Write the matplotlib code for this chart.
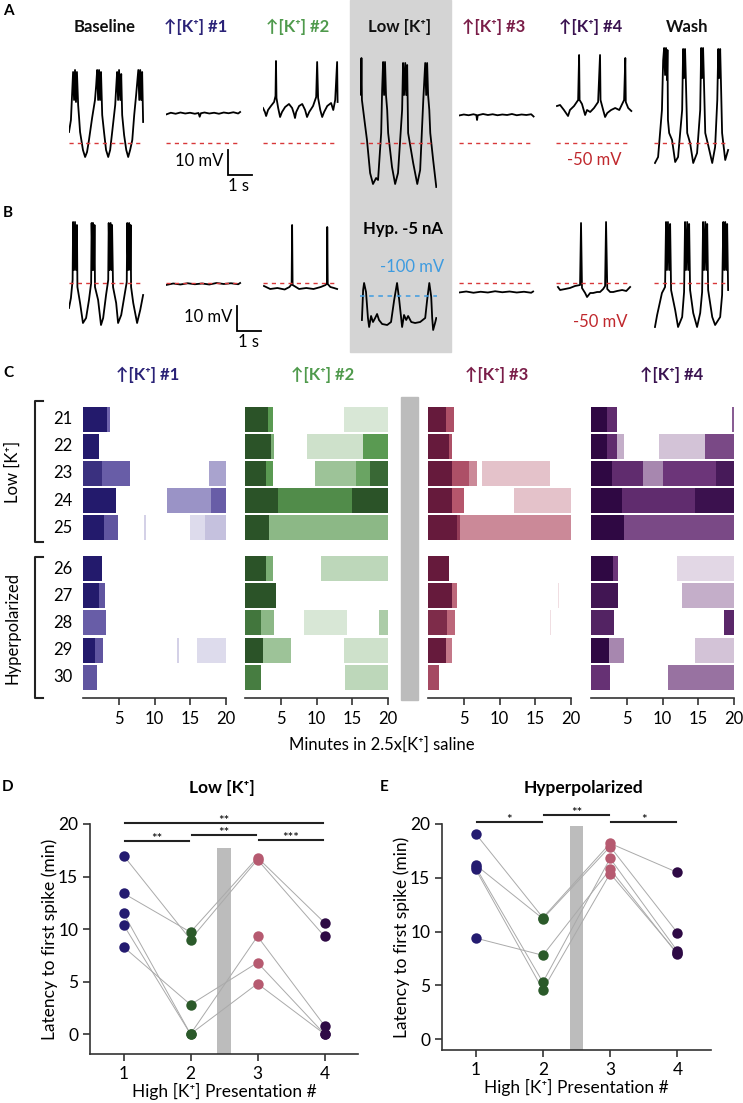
import numpy as np
import matplotlib.pyplot as plt
from matplotlib.colors import LinearSegmentedColormap
from matplotlib.patches import Rectangle
from matplotlib.lines import Line2D
import matplotlib.transforms as mtrans

plt.rcParams['font.family'] = ['Lato', 'DejaVu Sans']

# ---------------- data ----------------
# panel A / B traces: (time s, membrane potential mV)
a_baseline = [(0.00, -45.6), (0.08, -40.8), (0.17, -21.6), (0.21, -32.8), (0.25, -20.8), (0.29, -33.6),
              (0.33, -21.6), (0.38, -34.8), (0.42, -40.0), (0.46, -45.6), (0.58, -52.8), (0.67, -55.6),
              (0.75, -53.6), (0.83, -48.8), (0.96, -40.0), (1.08, -32.8), (1.13, -26.8), (1.17, -20.8),
              (1.21, -32.8), (1.25, -20.8), (1.29, -32.8), (1.33, -21.6), (1.38, -38.8), (1.46, -46.0),
              (1.54, -52.8), (1.63, -55.6), (1.71, -52.8), (1.79, -46.0), (1.92, -34.8), (1.96, -28.0),
              (2.00, -21.6), (2.04, -32.8), (2.08, -20.8), (2.13, -32.8), (2.17, -22.4), (2.21, -38.8),
              (2.29, -46.8), (2.38, -52.8), (2.46, -55.6), (2.54, -52.8), (2.63, -48.8), (2.71, -38.8),
              (2.79, -30.8), (2.88, -20.8), (2.92, -32.8), (2.96, -20.8), (3.00, -32.8), (3.04, -21.6),
              (3.08, -41.6)]
a_k1 = [(0.0, -38.6), (0.2, -37.9), (0.4, -38.3), (0.6, -37.8), (0.8, -38.2), (1.0, -37.9), (1.2, -38.3),
        (1.35, -38.0), (1.4, -39.5), (1.45, -38.1), (1.6, -37.8), (1.8, -38.2), (2.0, -37.9), (2.2, -38.3),
        (2.4, -37.8), (2.6, -38.1), (2.8, -37.7), (3.0, -38.2), (3.08, -37.6)]
a_k2 = [(0.00, -36.0), (0.08, -37.6), (0.13, -39.2), (0.21, -36.8), (0.33, -35.2), (0.46, -33.6),
        (0.52, -31.2), (0.54, -17.2), (0.56, -32.0), (0.63, -36.0), (0.71, -39.6), (0.79, -37.6),
        (0.92, -35.6), (1.08, -34.4), (1.21, -36.0), (1.29, -38.4), (1.33, -40.0), (1.38, -37.6),
        (1.50, -35.2), (1.63, -34.4), (1.75, -36.8), (1.83, -39.6), (1.92, -37.6), (2.08, -35.2),
        (2.21, -31.6), (2.25, -17.6), (2.29, -32.0), (2.38, -36.8), (2.46, -39.6), (2.54, -37.6),
        (2.67, -35.2), (2.83, -34.0), (2.92, -36.8), (3.00, -32.8), (3.08, -17.6), (3.10, -33.6)]
a_low = [(0.00, -16.8), (0.04, -30.8), (0.06, -16.0), (0.08, -32.8), (0.21, -42.8), (0.29, -48.8),
         (0.42, -62.0), (0.54, -66.4), (0.67, -64.0), (0.75, -64.8), (0.88, -46.0), (0.92, -28.8),
         (0.96, -17.6), (1.00, -30.8), (1.04, -17.6), (1.08, -30.8), (1.13, -36.8), (1.17, -46.0),
         (1.33, -59.6), (1.46, -66.4), (1.58, -62.0), (1.75, -36.8), (1.79, -18.0), (1.83, -30.8),
         (1.88, -18.0), (1.92, -30.8), (1.96, -18.8), (2.00, -46.0), (2.21, -58.0), (2.38, -66.4),
         (2.50, -60.8), (2.63, -32.8), (2.71, -18.0), (2.75, -30.8), (2.79, -18.0), (2.83, -30.8),
         (2.88, -36.8), (2.92, -46.0), (3.04, -56.8), (3.17, -67.6)]
a_k3 = [(0.0, -39.0), (0.2, -38.6), (0.4, -38.9), (0.6, -38.5), (0.72, -38.8), (0.75, -40.8), (0.78, -38.9),
        (1.0, -38.4), (1.2, -38.8), (1.4, -38.5), (1.6, -38.9), (1.8, -38.6), (2.0, -38.8), (2.2, -38.4),
        (2.4, -38.9), (2.6, -38.6), (2.8, -38.8), (3.0, -38.5), (3.1, -39.4)]
a_k4 = [(0.04, -35.2), (0.17, -34.8), (0.33, -36.8), (0.50, -39.2), (0.58, -36.8), (0.75, -35.2),
        (0.92, -32.8), (0.96, -14.8), (0.98, -32.8), (1.08, -34.4), (1.21, -38.8), (1.29, -36.8),
        (1.42, -37.6), (1.58, -36.0), (1.75, -33.6), (1.83, -14.8), (1.85, -32.8), (1.96, -36.8),
        (2.04, -39.6), (2.13, -38.0), (2.29, -36.8), (2.46, -36.0), (2.63, -36.8), (2.75, -34.4),
        (2.83, -32.8), (2.88, -16.0), (2.90, -33.6), (3.00, -36.0), (3.13, -37.2)]
a_wash = [(0.04, -58.0), (0.17, -55.6), (0.33, -36.8), (0.38, -17.0), (0.42, -12.0), (0.46, -22.8),
          (0.50, -12.0), (0.54, -24.8), (0.56, -12.8), (0.58, -40.8), (0.63, -46.0), (0.75, -48.8),
          (0.88, -57.6), (1.00, -55.6), (1.17, -36.8), (1.21, -12.4), (1.25, -24.0), (1.29, -12.4),
          (1.33, -26.8), (1.38, -46.0), (1.50, -50.0), (1.63, -58.0), (1.79, -54.0), (1.92, -36.8),
          (1.96, -12.0), (2.00, -24.0), (2.04, -12.0), (2.08, -26.8), (2.13, -46.0), (2.25, -50.8),
          (2.42, -58.0), (2.54, -51.6), (2.63, -32.8), (2.67, -12.4), (2.71, -24.0), (2.75, -12.4),
          (2.79, -28.8), (2.83, -46.0), (2.96, -56.8), (3.08, -52.8)]

b_baseline = [(0.00, -60.0), (0.08, -56.0), (0.15, -48.8), (0.17, -25.6), (0.21, -44.8), (0.25, -25.6),
              (0.29, -44.8), (0.33, -26.8), (0.35, -51.6), (0.46, -58.0), (0.58, -66.0), (0.71, -64.0),
              (0.83, -56.8), (0.92, -50.0), (0.94, -26.0), (0.98, -44.8), (1.00, -26.0), (1.04, -44.8),
              (1.06, -26.8), (1.08, -51.6), (1.21, -56.8), (1.33, -66.8), (1.42, -64.0), (1.54, -54.8),
              (1.63, -48.8), (1.65, -26.0), (1.69, -44.8), (1.73, -26.0), (1.77, -44.8), (1.79, -26.8),
              (1.83, -51.6), (1.96, -58.0), (2.04, -66.0), (2.17, -62.8), (2.33, -53.6), (2.40, -49.6),
              (2.42, -26.0), (2.46, -44.8), (2.50, -26.0), (2.54, -44.8), (2.56, -26.8), (2.58, -51.6),
              (2.67, -58.0), (2.83, -66.0), (2.96, -60.8), (3.08, -54.8)]
b_k1 = [(0.0, -50.8), (0.3, -50.2), (0.6, -50.6), (0.9, -50.1), (1.2, -50.5), (1.5, -50.2), (1.8, -50.6),
        (2.1, -50.0), (2.4, -50.4), (2.7, -50.1), (3.0, -50.5), (3.08, -50.0)]
b_k2 = [(0.04, -51.2), (0.3, -52.4), (0.6, -52.0), (0.9, -52.6), (1.1, -51.6), (1.19, -50.4), (1.21, -26.8),
        (1.23, -50.8), (1.3, -51.2), (1.5, -52.4), (1.8, -52.0), (2.1, -52.4), (2.4, -51.6), (2.6, -50.8),
        (2.66, -50.0), (2.67, -27.6), (2.69, -50.4), (2.8, -51.6), (2.95, -52.0), (3.08, -52.4)]
b_hyp = [(0.08, -109.6), (0.13, -97.6), (0.17, -94.8), (0.25, -98.4), (0.33, -108.8), (0.38, -112.4),
         (0.46, -108.0), (0.54, -110.4), (0.63, -108.8), (0.71, -107.2), (0.79, -109.6), (0.92, -111.2),
         (1.13, -111.6), (1.29, -110.4), (1.42, -101.6), (1.54, -94.8), (1.63, -101.6), (1.71, -108.8),
         (1.75, -112.4), (1.83, -107.6), (1.92, -109.6), (2.00, -108.0), (2.13, -110.4), (2.29, -110.8),
         (2.50, -110.4), (2.71, -108.8), (2.79, -101.6), (2.88, -94.8), (2.96, -100.4), (3.00, -108.8),
         (3.04, -113.6), (3.13, -110.4), (3.17, -108.8)]
b_k3 = [(0.0, -53.8), (0.3, -53.4), (0.6, -53.9), (0.9, -53.5), (1.2, -53.8), (1.5, -53.3), (1.8, -53.7),
        (2.1, -53.4), (2.4, -53.8), (2.7, -53.5), (3.0, -53.9), (3.08, -53.4)]
b_k4 = [(0.08, -51.6), (0.17, -52.8), (0.38, -52.4), (0.58, -52.0), (0.79, -51.2), (1.00, -50.8),
        (1.04, -26.0), (1.08, -52.0), (1.21, -54.0), (1.29, -55.6), (1.42, -54.0), (1.54, -54.0),
        (1.71, -53.6), (1.83, -53.6), (1.96, -52.4), (2.04, -51.2), (2.08, -25.6), (2.13, -52.4),
        (2.25, -53.6), (2.38, -53.6), (2.54, -53.2), (2.75, -52.8), (2.92, -53.2), (3.08, -51.6)]
b_wash = [(0.04, -67.6), (0.13, -62.8), (0.33, -54.0), (0.46, -51.6), (0.50, -25.6), (0.54, -44.8),
          (0.58, -25.6), (0.63, -44.8), (0.67, -26.4), (0.71, -52.8), (0.88, -60.8), (1.00, -67.6),
          (1.17, -63.6), (1.25, -53.6), (1.29, -25.6), (1.33, -44.8), (1.38, -25.6), (1.42, -44.8),
          (1.46, -26.4), (1.50, -52.8), (1.63, -62.0), (1.79, -67.6), (1.92, -62.0), (2.00, -53.6),
          (2.04, -25.6), (2.08, -44.8), (2.13, -25.6), (2.17, -44.8), (2.21, -26.4), (2.25, -52.8),
          (2.42, -63.6), (2.54, -66.8), (2.75, -63.6), (2.83, -54.8), (2.88, -25.6), (2.92, -44.8),
          (2.96, -25.6), (3.00, -44.8), (3.04, -26.4), (3.08, -52.8)]

trace_titles = ["Baseline", "↑[K⁺] #1", "↑[K⁺] #2", "Low [K⁺]", "↑[K⁺] #3", "↑[K⁺] #4", "Wash"]

# panel C: spiking bands per preparation (start min, end min, relative density)
prep_ids = [21, 22, 23, 24, 25, 26, 27, 28, 29, 30]
raster_k1 = [
    [(0, 3.3, 1.0), (3.3, 3.8, 0.5)],
    [(0, 2.2, 1.0)],
    [(0, 2.6, 0.85), (2.6, 6.6, 0.55), (17.6, 20, 0.3)],
    [(0, 4.6, 1.0), (11.8, 17.9, 0.35), (17.9, 20, 0.55)],
    [(0, 3.0, 1.0), (3.0, 4.9, 0.6), (8.6, 8.8, 0.15), (15.0, 17.1, 0.12), (17.1, 20, 0.2)],
    [(0, 2.7, 1.0)],
    [(0, 2.2, 1.0), (2.2, 3.1, 0.6)],
    [(0, 3.2, 0.55)],
    [(0, 1.7, 1.0), (1.7, 2.8, 0.6), (13.2, 13.4, 0.15), (16.0, 20, 0.12)],
    [(0, 1.9, 0.6)],
]
raster_k2 = [
    [(0, 3.2, 1.0), (3.2, 3.9, 0.5), (13.8, 20, 0.12)],
    [(0, 3.6, 1.0), (3.6, 4.0, 0.4), (8.7, 16.5, 0.15), (16.5, 20, 0.5)],
    [(0, 3.0, 1.0), (3.0, 3.9, 0.5), (9.8, 15.5, 0.3), (15.5, 17.5, 0.45), (17.5, 20, 0.85)],
    [(0, 4.6, 1.0), (4.6, 14.9, 0.6), (14.9, 20, 1.0)],
    [(0, 3.4, 1.0), (3.4, 20, 0.35)],
    [(0, 3.0, 1.0), (3.0, 3.9, 0.4), (10.6, 20, 0.2)],
    [(0, 4.4, 1.0)],
    [(0, 2.2, 0.75), (2.2, 4.1, 0.35), (8.3, 14.2, 0.12), (18.8, 20, 0.25)],
    [(0, 2.5, 1.0), (2.5, 6.4, 0.3), (13.9, 20, 0.15)],
    [(0, 2.2, 0.7), (14.0, 20, 0.2)],
]
raster_k3 = [
    [(0, 2.5, 1.0), (2.5, 3.6, 0.55)],
    [(0, 2.9, 1.0), (2.9, 3.3, 0.55)],
    [(0, 3.4, 1.0), (3.4, 5.7, 0.55), (5.7, 6.9, 0.35), (7.6, 17.0, 0.18)],
    [(0, 3.3, 1.0), (3.3, 5.1, 0.5), (12.0, 20, 0.18)],
    [(0, 4.0, 1.0), (4.0, 4.5, 0.7), (4.5, 20, 0.35)],
    [(0, 3.0, 1.0)],
    [(0, 3.3, 1.0), (3.3, 4.1, 0.45), (18.2, 18.3, 0.1)],
    [(0, 2.7, 0.85), (2.7, 3.8, 0.45), (17.1, 17.2, 0.1)],
    [(0, 2.5, 1.0), (2.5, 3.4, 0.4)],
    [(0, 1.6, 0.6)],
]
raster_k4 = [
    [(0, 2.2, 1.0), (2.2, 3.6, 0.6), (19.7, 20, 0.4)],
    [(0, 2.2, 1.0), (2.2, 3.7, 0.6), (3.7, 4.6, 0.2), (9.5, 16.0, 0.15), (16.0, 20, 0.45)],
    [(0, 3.0, 1.0), (3.0, 7.3, 0.6), (7.3, 10.0, 0.3), (10.0, 17.5, 0.5), (17.5, 20, 0.8)],
    [(0, 4.4, 1.0), (4.4, 14.5, 0.6), (14.5, 20, 0.9)],
    [(0, 4.6, 1.0), (4.6, 20, 0.45)],
    [(0, 3.1, 1.0), (3.1, 3.8, 0.5), (12.0, 20, 0.1)],
    [(0, 3.8, 0.85), (12.7, 20, 0.2)],
    [(0, 3.2, 0.7), (18.6, 20, 0.65)],
    [(0, 2.5, 1.0), (2.5, 4.6, 0.3), (14.6, 20, 0.15)],
    [(0, 2.7, 0.55), (10.7, 20, 0.35)],
]

# panel D / E: latency to first spike (min), one list per presentation, same animal order
presentations = [1, 2, 3, 4]
d_k1 = [17.0, 13.4, 11.5, 10.4, 8.3]
d_k2 = [9.0, 9.7, 0.0, 0.0, 2.8]
d_k3 = [16.6, 16.8, 9.3, 4.8, 6.8]
d_k4 = [9.3, 10.6, 0.8, 0.0, 0.0]
e_k1 = [19.1, 16.2, 16.0, 15.8, 9.4]
e_k2 = [11.3, 11.2, 5.3, 4.6, 7.8]
e_k3 = [18.2, 17.9, 16.8, 15.4, 15.8]
e_k4 = [15.5, 9.9, 8.2, 8.0, 7.9]
sig_d = [(1, 4, 20.1, "**"), (1, 2, 18.4, "**"), (2, 3, 19.0, "**"), (3, 4, 18.5, "***")]
sig_e = [(1, 2, 20.2, "*"), (2, 3, 20.8, "**"), (3, 4, 20.2, "*")]

# ---------------- style ----------------
c_k1, c_k2, c_k3, c_k4 = "#2a2277", "#4f9a4c", "#7a1d48", "#3a1250"
dot_cols = ["#241b70", "#2b5a2a", "#b65a70", "#2e0a45"]
cmaps = [LinearSegmentedColormap.from_list("k1", ["white", "#6f64ad", "#231a6c"]),
         LinearSegmentedColormap.from_list("k2", ["white", "#5a9a52", "#2b5328"]),
         LinearSegmentedColormap.from_list("k3", ["white", "#b5566c", "#661a3c"]),
         LinearSegmentedColormap.from_list("k4", ["white", "#6c3579", "#2f0843"])]
red = "#d8383a"
blue = "#3d9be0"

W, H = 743, 1103
fig = plt.figure(figsize=(W / 100, H / 100), dpi=100)


def rect(x0, y0, w, h):
    return [x0 / W, 1 - (y0 + h) / H, w / W, h / H]


def fx(x):
    return x / W


def fy(y):
    return 1 - y / H


# gray background for low K column and divider in C
fig.patches.append(Rectangle((fx(350), fy(352)), fx(101), 352 / H, transform=fig.transFigure,
                             color="#d4d4d4", zorder=-5))
fig.patches.append(Rectangle((fx(401), fy(700)), fx(17), 303 / H, transform=fig.transFigure,
                             color="#bcbcbc", zorder=-5))

# ---------------- panels A, B ----------------
col_x = [69, 166, 263, 360, 459, 556, 654]
rows_a = [a_baseline, a_k1, a_k2, a_low, a_k3, a_k4, a_wash]
rows_b = [b_baseline, b_k1, b_k2, b_hyp, b_k3, b_k4, b_wash]
title_x = [105, 196, 298, 400, 494, 591, 687]
title_c = ["#111111", c_k1, c_k2, "#111111", c_k3, c_k4, "#111111"]
for i in range(7):
    fig.text(fx(title_x[i]), fy(27), trace_titles[i], ha="center", va="center",
             fontsize=12, fontweight="bold", color=title_c[i])

trace_axes = {}
for row, traces, y0, ylim in [("A", rows_a, 45, (-70.8, -10.8)), ("B", rows_b, 205, (-74.8, -18.8))]:
    for i, tr in enumerate(traces):
        ax = fig.add_axes(rect(col_x[i], y0, 77, 150 if row == "A" else 140))
        ax.set_xlim(0, 3.2)
        if row == "B" and i == 3:
            ax.set_ylim(-119.6, -63.6)
            ax.hlines(-100, 0, 3.2, color=blue, lw=1.1, linestyles=(0, (3, 3)), zorder=3)
        else:
            ax.set_ylim(*ylim)
            ax.hlines(-50, 0, 3.1, color=red, lw=1.0, linestyles=(0, (3, 3)), zorder=3)
        t, v = np.array(tr).T
        ax.plot(t, v, color="black", lw=1.3, zorder=2)
        ax.axis("off")
        trace_axes[(row, i)] = ax

# scale bars (1 s, 10 mV)
for row, tx, vy in [("A", 2.58, -52.8), ("B", 2.96, -59.1)]:
    ax = trace_axes[(row, 1)]
    ax.plot([tx, tx, tx + 1], [vy, vy - 10, vy - 10], color="black", lw=1.3, clip_on=False,
            solid_joinstyle="miter")
    ax.text(tx - 0.2, vy - 4.5, "10 mV", ha="right", va="center", fontsize=12)
    ax.text(tx + 0.45, vy - 14.5, "1 s", ha="center", va="center", fontsize=12)

fig.text(fx(594), fy(160), "-50 mV", color="#c0282d", ha="center", va="center", fontsize=12)
fig.text(fx(600), fy(322), "-50 mV", color="#c0282d", ha="center", va="center", fontsize=12)
fig.text(fx(412), fy(267), "-100 mV", color=blue, ha="center", va="center", fontsize=12)
fig.text(fx(403), fy(229), "Hyp. -5 nA", ha="center", va="center", fontsize=12, fontweight="bold")

for lab, x, y in [("A", 8, 11), ("B", 8, 213), ("C", 8, 373), ("D", 8, 787), ("E", 384, 787)]:
    fig.text(fx(x), fy(y), lab, fontsize=11, fontweight="bold", ha="center", va="center")

# ---------------- panel C ----------------
raster_x = [83, 245, 428, 591]
raster_cols = [c_k1, c_k2, c_k3, c_k4]
raster_titles = ["↑[K⁺] #1", "↑[K⁺] #2", "↑[K⁺] #3", "↑[K⁺] #4"]
title_cx = [148, 323, 497, 672]
rasters = [raster_k1, raster_k2, raster_k3, raster_k4]
ypos = [i + (0.5 if i >= 5 else 0) for i in range(len(prep_ids))]
for ci in range(4):
    ax = fig.add_axes(rect(raster_x[ci], 400, 143, 298))
    for ri, bands in enumerate(rasters[ci]):
        for s, e, lvl in bands:
            ax.barh(ypos[ri], e - s, left=s, height=0.92, color=cmaps[ci](lvl), linewidth=0)
    ax.set_xlim(0, 20)
    ax.set_ylim(10.26, -0.7)
    for sp in ["top", "right", "left"]:
        ax.spines[sp].set_visible(False)
    ax.spines["bottom"].set_color("#333333")
    ax.spines["bottom"].set_linewidth(1.2)
    ax.set_yticks([])
    ax.set_xticks([5, 10, 15, 20])
    ax.tick_params(axis="x", length=5, width=1.2, labelsize=12, pad=4, color="#333333")
    ax.patch.set_visible(False)
    fig.text(fx(title_cx[ci]), fy(375), raster_titles[ci], ha="center", va="center",
             fontsize=12, fontweight="bold", color=raster_cols[ci])
    if ci == 0:
        tr = mtrans.blended_transform_factory(fig.transFigure, ax.transData)
        for ri, pid in enumerate(prep_ids):
            ax.text(fx(63), ypos[ri], str(pid), transform=tr, ha="center", va="center", fontsize=12)

for y0, y1, lab in [(401, 542, "Low [K⁺]"), (557, 698, "Hyperpolarized")]:
    fig.add_artist(Line2D([fx(43), fx(35), fx(35), fx(43)], [fy(y0), fy(y0), fy(y1), fy(y1)],
                          color="#222222", lw=1.5))
    fig.text(fx(13), fy((y0 + y1) / 2), lab, rotation=90, ha="center", va="center", fontsize=12)
fig.text(fx(382), fy(745), "Minutes in 2.5x[K⁺] saline", ha="center", va="center", fontsize=12)

# ---------------- panels D, E ----------------
for vals, sigs, box, ylo, bar_top, title, tx in [
        ([d_k1, d_k2, d_k3, d_k4], sig_d, (90, 824, 268, 230), -1.9, 17.7, "Low [K⁺]", 222),
        ([e_k1, e_k2, e_k3, e_k4], sig_e, (442, 824, 269, 226), -1.0, 19.8, "Hyperpolarized", 583)]:
    ax = fig.add_axes(rect(*box))
    ax.set_xlim(0.5, 4.5)
    ax.set_ylim(ylo, 20)
    ax.bar(2.5, bar_top - ylo, bottom=ylo, width=0.2, color="#bcbcbc", zorder=0)
    arr = np.array(vals)
    for animal in arr.T:
        ax.plot(presentations, animal, color="#aaaaaa", lw=0.7, zorder=1)
    for j in range(4):
        ax.plot([presentations[j]] * len(arr[j]), arr[j], "o", color=dot_cols[j], ms=7.5,
                mec="none", zorder=3)
    for x1, x2, y, stars in sigs:
        ax.plot([x1 + 0.02, x2 - 0.02], [y, y], color="#222222", lw=1.5, clip_on=False)
        ax.annotate(stars, ((x1 + x2) / 2, y), xytext=(0, -1.5), textcoords="offset points",
                    ha="center", va="baseline", fontsize=9.5, annotation_clip=False)
    for sp in ["top", "right"]:
        ax.spines[sp].set_visible(False)
    for sp in ["left", "bottom"]:
        ax.spines[sp].set_color("#333333")
        ax.spines[sp].set_linewidth(1.2)
    ax.set_xticks(presentations)
    ax.set_yticks([0, 5, 10, 15, 20])
    ax.tick_params(length=5, width=1.2, labelsize=12.5, color="#333333")
    ax.set_xlabel("High [K⁺] Presentation #", fontsize=12.5, labelpad=1)
    ax.set_ylabel("Latency to first spike (min)", fontsize=12.5, labelpad=0)
    fig.text(fx(tx), fy(788), title, ha="center", va="center", fontsize=12.5, fontweight="bold")

fig.savefig("out.png", dpi=100)
